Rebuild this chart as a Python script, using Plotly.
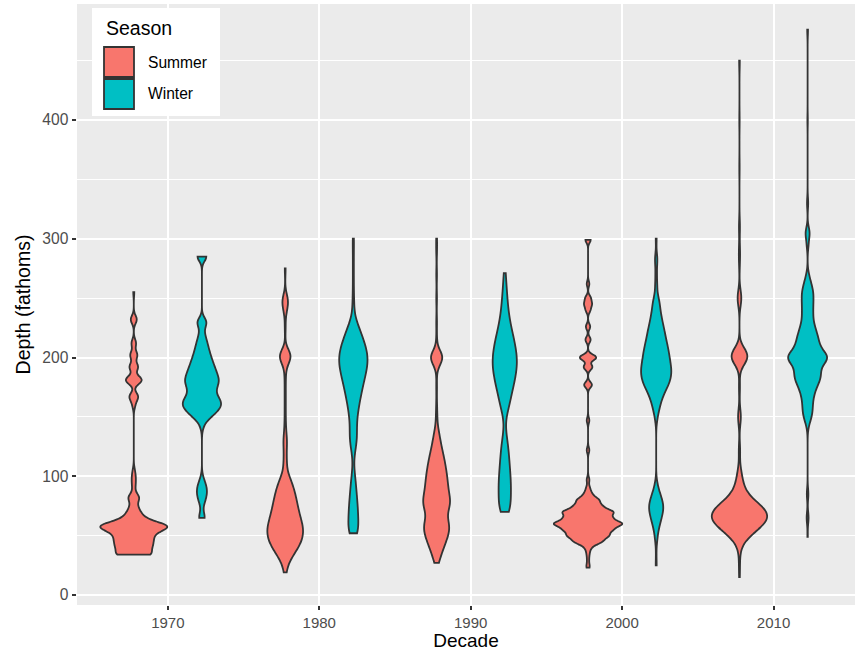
import numpy as np
import plotly.graph_objects as go

# ---------------------------------------------------------------
# Haul depths (fathoms) and number of hauls at each depth,
# by decade and season
# ---------------------------------------------------------------
decades = [1970, 1980, 1990, 2000, 2010]
seasons = ["Summer", "Winter"]
season_colors = {"Summer": "#F8766D", "Winter": "#00BFC4"}

summer_1970_depth = [34, 40, 45, 50, 55, 58, 60, 65, 70, 75, 82, 90, 95, 100, 105,
                     160, 167, 181, 192, 202, 212, 232, 255]
summer_1970_count = [56, 46, 46, 48, 50, 60, 40, 26, 16, 10, 20, 4, 5, 5, 3,
                     5, 17, 32, 17, 14, 9, 12, 2]

winter_1970_depth = [65, 70, 75, 80, 85, 90, 95, 100, 140, 145, 150, 155, 160, 165,
                     170, 175, 180, 185, 190, 195, 200, 205, 210, 215, 220, 225,
                     230, 285]
winter_1970_count = [10, 2, 3, 8, 11, 11, 7, 2, 2, 6, 20, 34, 44, 38,
                     28, 31, 38, 33, 29, 24, 20, 16, 13, 10, 6, 4,
                     16, 18]

summer_1980_depth = [19, 25, 30, 35, 40, 45, 50, 55, 60, 65, 70, 75, 80, 85, 90, 95,
                     100, 110, 120, 130, 140, 150, 160, 170, 180, 190, 201, 225,
                     240, 248, 275]
summer_1980_count = [3, 4, 9, 16, 24, 29, 32, 33, 30, 27, 24, 22, 20, 18, 15, 12,
                     8, 6, 5, 7, 3, 2, 2, 2, 2, 3, 27, 2,
                     5, 12, 2]

winter_1980_depth = [52, 55, 60, 65, 70, 75, 80, 85, 90, 95, 100, 105, 110, 115,
                     120, 125, 130, 135, 140, 145, 150, 155, 160, 165, 170, 175,
                     180, 185, 190, 195, 200, 205, 210, 215, 220, 225, 230, 240,
                     250, 260, 270, 280, 290, 300]
winter_1980_count = [10, 10, 10, 10, 10, 9, 8, 7, 6, 5, 4, 2, 1, 1,
                     3, 6, 8, 8, 7, 7, 8, 10, 12, 14, 17, 19,
                     22, 25, 28, 30, 31, 29, 25, 21, 17, 12, 8, 4,
                     3, 2, 2, 2, 2, 3]

summer_1990_depth = [27, 30, 35, 40, 45, 50, 55, 60, 65, 70, 75, 80, 85, 90, 95,
                     100, 105, 110, 115, 120, 125, 130, 135, 140, 150, 160, 175,
                     190, 200, 215, 230, 250, 270, 290, 300]
summer_1990_count = [3, 6, 10, 15, 20, 24, 28, 29, 19, 20, 31, 30, 25, 24, 23,
                     22, 20, 18, 16, 13, 10, 8, 6, 4, 3, 2, 2,
                     2, 34, 2, 2, 2, 2, 2, 2]

winter_1990_depth = [70, 75, 80, 85, 90, 95, 100, 105, 110, 115, 120, 125, 130,
                     135, 140, 145, 150, 155, 160, 165, 170, 175, 180, 185, 190,
                     195, 200, 205, 210, 215, 220, 225, 230, 235, 240, 245, 250,
                     255, 260, 265, 271]
winter_1990_count = [14, 14, 13, 14, 14, 14, 13, 12, 11, 10, 9, 8, 6,
                     4, 2, 1, 3, 7, 11, 13, 16, 19, 22, 25, 27,
                     28, 28, 26, 24, 21, 18, 15, 12, 10, 8, 7, 6,
                     5, 4, 3, 4]

summer_2000_depth = [23, 25, 30, 35, 40, 45, 50, 55, 60, 65, 70, 75, 80, 85, 90,
                     97, 122, 147, 177, 192, 200, 215, 226, 240, 245, 250, 262, 299]
summer_2000_count = [2, 2, 2, 3, 6, 28, 40, 46, 68, 44, 50, 26, 22, 8, 4,
                     3, 3, 3, 9, 10, 19, 6, 5, 5, 8, 6, 3, 6]

winter_2000_depth = [25, 35, 45, 50, 55, 60, 65, 70, 75, 80, 85, 90, 95, 145, 150,
                     155, 160, 165, 170, 175, 180, 185, 190, 195, 200, 205, 210,
                     215, 220, 225, 230, 235, 240, 245, 250, 260, 270, 280, 285, 300]
winter_2000_count = [2, 1, 2, 3, 4, 8, 10, 14, 15, 12, 8, 4, 2, 1, 3,
                     5, 8, 11, 15, 22, 27, 29, 30, 27, 26, 24, 22,
                     19, 17, 15, 12, 10, 8, 7, 6, 4, 3, 3, 3, 2]

summer_2010_depth = [15, 20, 25, 30, 35, 40, 45, 50, 55, 60, 65, 70, 75, 80, 85,
                     90, 95, 100, 105, 122, 150, 175, 201, 250, 280, 290, 310,
                     360, 400, 450]
summer_2010_count = [1, 1, 1, 1, 1, 2, 6, 20, 34, 52, 62, 60, 44, 26, 12,
                     9, 7, 5, 4, 4, 9, 3, 52, 12, 2, 3, 3,
                     1, 1, 2]

winter_2010_depth = [49, 65, 85, 140, 145, 150, 155, 160, 165, 170, 175, 180, 185,
                     190, 195, 200, 205, 210, 215, 220, 225, 230, 235, 240, 245,
                     250, 255, 260, 265, 270, 295, 305, 330, 400, 476]
winter_2010_count = [1, 5, 4, 1, 4, 10, 11, 11, 12, 15, 19, 27, 31,
                     26, 30, 60, 30, 26, 24, 21, 17, 12, 12, 12, 12,
                     13, 13, 10, 6, 3, 4, 10, 3, 1, 2]

# Gaussian kernel bandwidth (fathoms) for each decade's density estimate
summer_bandwidth = [3.5, 6, 6, 2.5, 7]
winter_bandwidth = [4, 7, 7, 5, 5]

hauls = {
    "Summer": [(summer_1970_depth, summer_1970_count),
               (summer_1980_depth, summer_1980_count),
               (summer_1990_depth, summer_1990_count),
               (summer_2000_depth, summer_2000_count),
               (summer_2010_depth, summer_2010_count)],
    "Winter": [(winter_1970_depth, winter_1970_count),
               (winter_1980_depth, winter_1980_count),
               (winter_1990_depth, winter_1990_count),
               (winter_2000_depth, winter_2000_count),
               (winter_2010_depth, winter_2010_count)],
}
bandwidths = {"Summer": summer_bandwidth, "Winter": winter_bandwidth}

FONT = "Liberation Sans, Arial, Helvetica, sans-serif"
OUTLINE = "#333333"
LINE_W = 1.8

fig = go.Figure()
for season in seasons:
    for decade, (depths, counts), bw in zip(decades, hauls[season], bandwidths[season]):
        y = np.repeat(np.asarray(depths, dtype=float), counts)
        x = np.full(y.size, decade)
        fig.add_trace(go.Violin(
            x=x, y=y,
            name=season, legendgroup=season, showlegend=False,
            offsetgroup=season, alignmentgroup="decade",
            scalegroup="depth", scalemode="width",
            spanmode="hard", bandwidth=bw,
            points=False, box_visible=False, meanline_visible=False,
            fillcolor=season_colors[season], opacity=1,
            line=dict(color=OUTLINE, width=LINE_W),
            hoveron="violins",
        ))

# plot-area geometry (pixels) used for placing the legend panel
W, H = 855, 651
ML, MR, MT, MB = 77, 0, 4, 46


def px_x(px):
    return (px - ML) / (W - ML - MR)


def px_y(py):
    return (H - MB - py) / (H - MT - MB)


shapes = [
    dict(type="rect", xref="paper", yref="paper",
         x0=px_x(92), x1=px_x(220), y0=px_y(116), y1=px_y(8),
         fillcolor="white", line=dict(width=0), layer="above"),
]
annotations = [
    dict(text="Season", xref="paper", yref="paper", x=px_x(104), y=px_y(28),
         xanchor="left", yanchor="middle", showarrow=False,
         font=dict(family=FONT, size=19.5, color="black")),
]
for i, season in enumerate(seasons):
    top = 47 + 32 * i
    shapes.append(dict(type="rect", xref="paper", yref="paper",
                       x0=px_x(104), x1=px_x(134), y0=px_y(top + 30), y1=px_y(top),
                       fillcolor=season_colors[season],
                       line=dict(color=OUTLINE, width=LINE_W), layer="above"))
    annotations.append(dict(text=season, xref="paper", yref="paper",
                            x=px_x(146), y=px_y(top + 15),
                            xanchor="left", yanchor="middle", showarrow=False,
                            font=dict(family=FONT, size=15.6, color="black")))

fig.update_layout(
    width=W, height=H,
    margin=dict(l=ML, r=MR, t=MT, b=MB, pad=0),
    paper_bgcolor="white", plot_bgcolor="#EBEBEB",
    font=dict(family=FONT),
    violinmode="group", violingap=0.1, violingroupgap=0,
    showlegend=False,
    shapes=shapes, annotations=annotations,
    xaxis=dict(
        range=[1964.0, 2015.38],
        tickmode="array", tickvals=decades, ticktext=[str(d) for d in decades],
        showgrid=True, gridcolor="white", gridwidth=LINE_W,
        zeroline=False, showline=False,
        ticks="outside", ticklen=4, tickwidth=LINE_W, tickcolor=OUTLINE,
        tickfont=dict(family=FONT, size=15, color="#4D4D4D"),
        title=dict(text="Decade", standoff=5,
                   font=dict(family=FONT, size=19, color="black")),
    ),
    yaxis=dict(
        range=[-8.4, 497.7],
        tickmode="array", tickvals=[0, 100, 200, 300, 400],
        showgrid=True, gridcolor="white", gridwidth=LINE_W,
        minor=dict(tickmode="array", tickvals=[50, 150, 250, 350, 450],
                   showgrid=True, gridcolor="white", gridwidth=0.9),
        zeroline=False, showline=False,
        ticks="outside", ticklen=4.5, tickwidth=LINE_W, tickcolor=OUTLINE,
        tickfont=dict(family=FONT, size=15.6, color="#4D4D4D"),
        title=dict(text="Depth (fathoms)", standoff=6,
                   font=dict(family=FONT, size=19.5, color="black")),
    ),
)

fig.write_html("out.html")
